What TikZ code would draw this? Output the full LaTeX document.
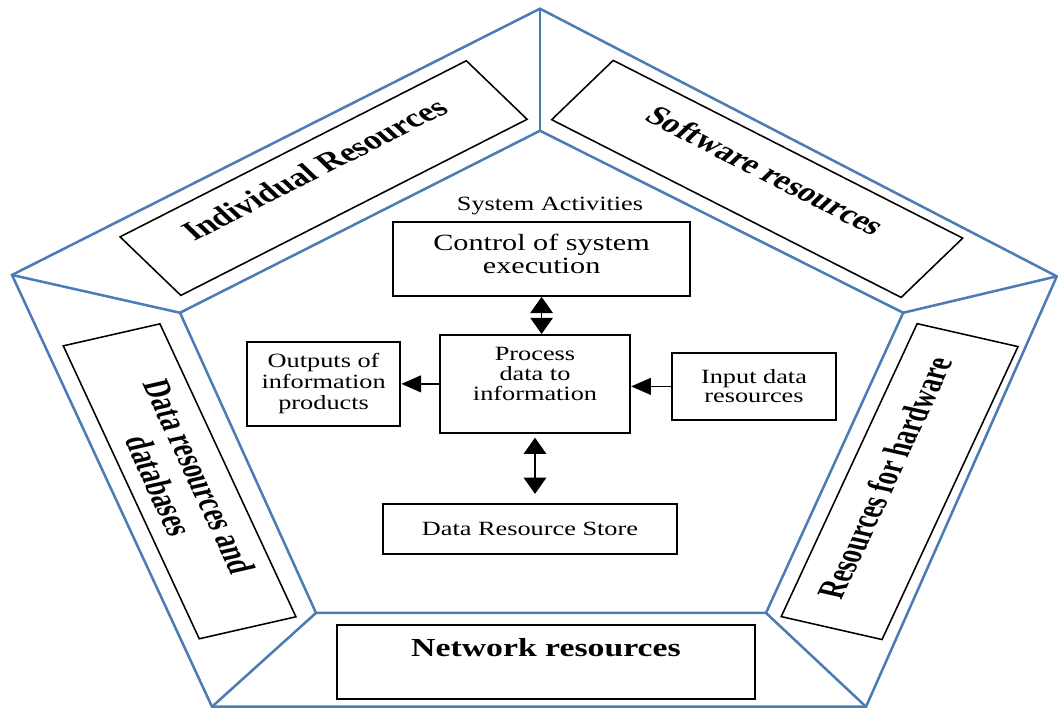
\documentclass[tikz,border=0pt]{standalone}
\usepackage{fontspec}
\setmainfont{Liberation Serif}
\usetikzlibrary{arrows.meta}
\definecolor{penta}{RGB}{76,124,180}
\newcommand{\bandfont}{\fontsize{25}{27.3}\selectfont\bfseries}
\newcommand{\actfont}{\fontsize{18.7}{18.6}\selectfont}
\newcommand{\ctrlfont}{\fontsize{21.5}{21.4}\selectfont}
\tikzset{
  rim/.style={draw=penta, line width=1.8pt},
  band/.style={draw, line width=1.1pt, align=center, font=\bandfont, inner sep=0pt, rotate=#1, yscale=1.1},
  actbox/.style={draw, line width=1.7pt, align=center, font=\actfont, inner sep=0pt, yscale=1.1},
  harr/.style={line width=1pt, -{Triangle[length=14pt,width=12pt]}},
  varr/.style={line width=1pt, {Triangle[length=11.5pt,width=16pt]}-{Triangle[length=11.5pt,width=16pt]}}
}
\begin{document}
\begin{tikzpicture}
  \begin{scope}[yscale=0.7, transform shape]
    \useasboundingbox (-13.5,-11.18) rectangle (12.95,14.14);
    % outer and inner pentagon
    \coordinate (oT) at (0,13.83);
    \coordinate (oR) at (12.92,4.27);
    \coordinate (oBR) at (8.15,-11.1);
    \coordinate (oBL) at (-8.2,-11.1);
    \coordinate (oL) at (-13.2,4.32);
    \coordinate (iT) at (0,9.47);
    \coordinate (iR) at (9.08,2.97);
    \coordinate (iBR) at (5.65,-7.75);
    \coordinate (iBL) at (-5.6,-7.75);
    \coordinate (iL) at (-9.0,2.97);
    \draw[rim] (oT) -- (oR) -- (oBR) -- (oBL) -- (oL) -- cycle;
    \draw[rim] (iT) -- (iR) -- (iBR) -- (iBL) -- (iL) -- cycle;
    \draw[rim] (oT) -- (iT);
    \draw[rim] (oR) -- (iR);
    \draw[rim] (oBR) -- (iBR);
    \draw[rim] (oBL) -- (iBL);
    \draw[rim] (oL) -- (iL);
    % resources around the system
    \node[band=36, minimum width=10.7cm, minimum height=2.35cm] (indiv) at (-5.41,7.78) {Individual Resources\\[-6.7pt]\mbox{}};
    \node[band=-36, minimum width=10.8cm, minimum height=2.38cm] (soft) at (5.43,7.75) {Software resources\\[-8pt]\mbox{}};
    \node[band=72, minimum width=11cm, minimum height=2.41cm] (hard) at (8.99,-3.06) {Resources for hardware\\[-6.7pt]\mbox{}};
    \node[band=-72, minimum width=11cm, minimum height=2.31cm] (data) at (-9.01,-3.05) {Data resources and\\databases};
    \node[band=0, line width=1.7pt, font=\fontsize{24}{26}\selectfont\bfseries, minimum width=10.45cm, minimum height=2.4cm] (net) at (0.15,-9.5) {Network resources\\\mbox{}};
    % system activities
    \node[font=\actfont, yscale=1.1] (sysact) at (0.25,6.79) {System Activities};
    \node[actbox, font=\ctrlfont, minimum width=7.43cm, minimum height=2.4cm] (ctrl) at (0.04,4.89) {Control of system\\execution\\[-12.4pt]\mbox{}};
    \node[actbox, minimum width=4.75cm, minimum height=3.18cm] (proc) at (-0.125,0.43) {Process\\data to\\information\\\mbox{}};
    \node[actbox, font=\fontsize{18.7}{19.5}\selectfont, minimum width=3.83cm, minimum height=2.73cm] (outp) at (-5.41,0.43) {Outputs of\\information\\products};
    \node[actbox, font=\fontsize{18.7}{17.7}\selectfont, minimum width=4.1cm, minimum height=2.17cm] (inp) at (5.35,0.34) {Input data\\resources};
    \node[actbox, minimum width=7.35cm, minimum height=1.63cm] (store) at (-0.25,-4.75) {Data Resource Store};
  \end{scope}
  \draw[varr] (ctrl.south) -- (ctrl.south |- proc.north);
  \draw[harr] (proc.west) -- (outp.east);
  \draw[harr] (inp.west) -- (inp.west -| proc.east);
  \draw[varr, shorten <=2.8pt, shorten >=6.4pt] (proc.south) -- (proc.south |- store.north);
\end{tikzpicture}
\end{document}
